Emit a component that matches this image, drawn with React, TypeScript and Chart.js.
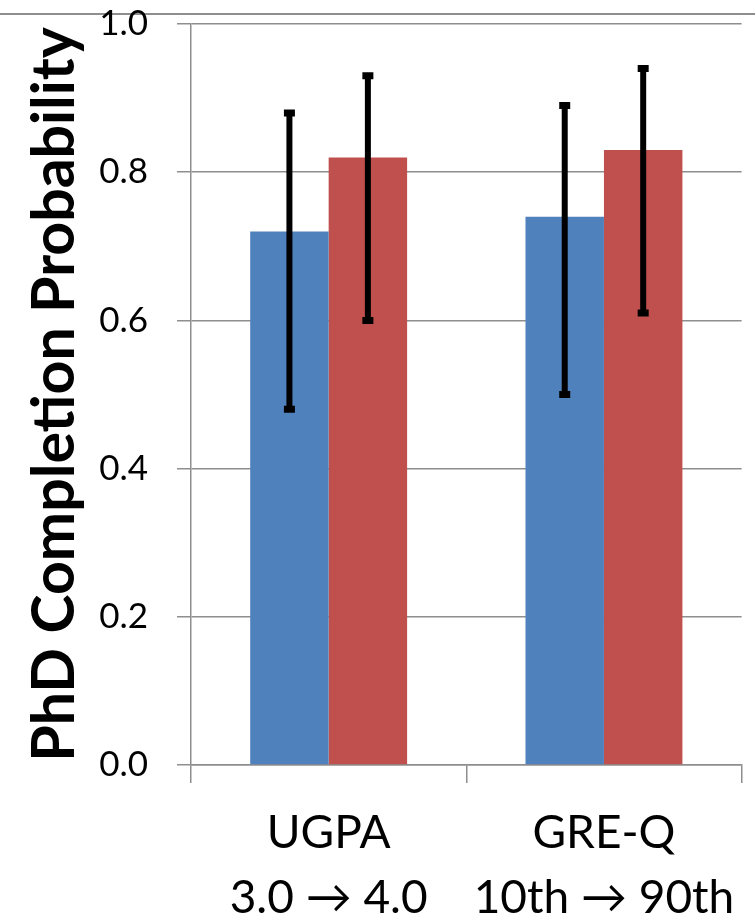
import React, { useEffect, useRef } from "react";
import { Chart, registerables } from "chart.js";

Chart.register(...registerables);

// Predictor contrasts on the x axis (two text lines per category)
const categories: string[][] = [
  ["UGPA", "3.0 \u2192 4.0"],
  ["GRE-Q", "10th \u2192 90th"],
];

// Completion probability at the low and high end of each predictor
const lowValues = [0.72, 0.74];
const highValues = [0.82, 0.83];

// Interval bounds for each bar
const lowErrLower = [0.48, 0.5];
const lowErrUpper = [0.88, 0.89];
const highErrLower = [0.6, 0.61];
const highErrUpper = [0.93, 0.94];

const yTicks = [0, 0.2, 0.4, 0.6, 0.8, 1.0];

const FONT = "Lato, 'Open Sans', sans-serif";
const GRID = "#8e8e8e";

const errorBars = {
  id: "errorBars",
  afterDatasetsDraw(chart: any) {
    const ctx = chart.ctx;
    const yScale = chart.scales.y;
    chart.data.datasets.forEach((ds: any, i: number) => {
      const meta = chart.getDatasetMeta(i);
      meta.data.forEach((bar: any, j: number) => {
        const x = bar.x;
        const yLo = yScale.getPixelForValue(ds.errLower[j]);
        const yHi = yScale.getPixelForValue(ds.errUpper[j]);
        ctx.save();
        ctx.strokeStyle = "#000";
        ctx.lineWidth = 6;
        ctx.lineCap = "butt";
        ctx.beginPath();
        ctx.moveTo(x, yLo);
        ctx.lineTo(x, yHi);
        ctx.stroke();
        ctx.lineWidth = 7;
        ctx.beginPath();
        ctx.moveTo(x - 5.5, yLo);
        ctx.lineTo(x + 5.5, yLo);
        ctx.moveTo(x - 5.5, yHi);
        ctx.lineTo(x + 5.5, yHi);
        ctx.stroke();
        ctx.restore();
      });
    });
  },
};

export default function App() {
  const canvasRef = useRef<HTMLCanvasElement | null>(null);

  useEffect(() => {
    if (!canvasRef.current) return;
    const chart = new Chart(canvasRef.current, {
      type: "bar",
      data: {
        labels: categories,
        datasets: [
          {
            label: "Low",
            data: lowValues,
            backgroundColor: "#4F81BD",
            borderWidth: 0,
            errLower: lowErrLower,
            errUpper: lowErrUpper,
          } as any,
          {
            label: "High",
            data: highValues,
            backgroundColor: "#C0504D",
            borderWidth: 0,
            errLower: highErrLower,
            errUpper: highErrUpper,
          } as any,
        ],
      },
      options: {
        responsive: false,
        animation: false,
        layout: { padding: { top: 24, right: 11, left: 0, bottom: 0 } },
        datasets: {
          bar: { categoryPercentage: 0.57, barPercentage: 1 },
        },
        plugins: {
          legend: { display: false },
          tooltip: { enabled: false },
        },
        scales: {
          x: {
            offset: true,
            grid: {
              offset: true,
              drawOnChartArea: false,
              color: GRID,
              lineWidth: 1.5,
              tickLength: 18,
            },
            border: { display: true, color: GRID, width: 1.5 },
            ticks: {
              color: "#000",
              font: { family: FONT, size: 46, lineHeight: "65px" as any },
              padding: 18,
              maxRotation: 0,
              autoSkip: false,
            },
            afterFit(scale: any) {
              scale.height = 158;
            },
          },
          y: {
            min: 0,
            max: 1,
            afterBuildTicks(scale: any) {
              scale.ticks = yTicks.map((v) => ({ value: v }));
            },
            grid: {
              color: GRID,
              lineWidth: 1.5,
              tickLength: 14,
            },
            border: { display: true, color: GRID, width: 1.5 },
            ticks: {
              color: "#000",
              font: { family: FONT, size: 35 },
              padding: 29,
              callback: (v: any) => Number(v).toFixed(1),
            },
            title: {
              display: true,
              text: "PhD Completion Probability",
              color: "#000",
              font: { family: FONT, size: 59, weight: "bold" },
              padding: { top: 20, bottom: 0 },
            },
            afterFit(scale: any) {
              scale.width = 191;
              scale.paddingTop = 0;
              scale.paddingBottom = 0;
            },
          },
        },
      },
      plugins: [errorBars],
    });
    return () => chart.destroy();
  }, []);

  return (
    <div
      style={{
        position: "absolute",
        left: 0,
        top: 0,
        width: 755,
        height: 923,
        background: "#fff",
        overflow: "hidden",
      }}
    >
      <div
        style={{
          position: "absolute",
          left: 0,
          top: 13,
          width: 755,
          height: 1.5,
          background: GRID,
        }}
      />
      <canvas
        ref={canvasRef}
        width={755}
        height={923}
        style={{ position: "absolute", left: 0, top: 0, width: 755, height: 923 }}
      />
    </div>
  );
}
